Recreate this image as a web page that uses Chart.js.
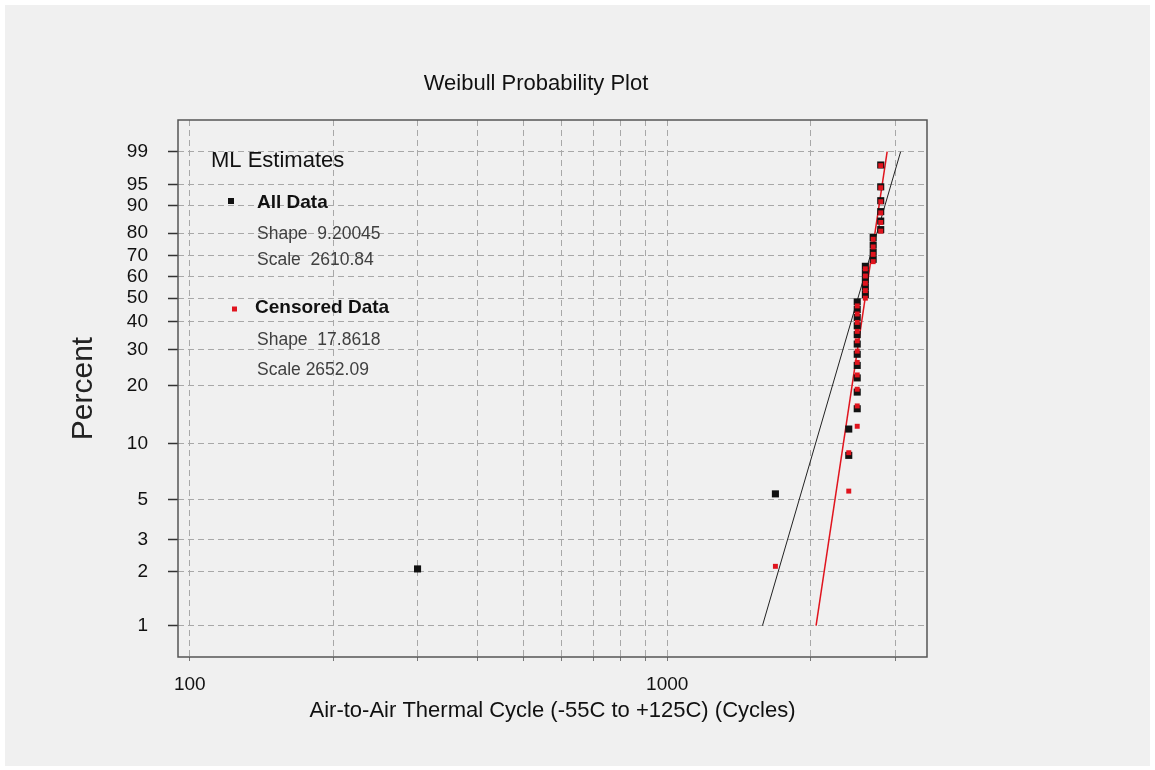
<!DOCTYPE html>
<html>
<head>
<meta charset="utf-8">
<title>Weibull Probability Plot</title>
<script src="https://cdn.jsdelivr.net/npm/chart.js@4.4.1/dist/chart.umd.min.js"></script>
<style>
  html, body { margin: 0; padding: 0; background: #fff; }
  #wrap { width: 1155px; height: 770px; }
</style>
</head>
<body>
<div id="wrap"><canvas id="chartWeibull" width="1155" height="770"></canvas></div>
<script>
// All data: cycles to failure and plotting position (%)
const allCycles = [300, 1685, 2400, 2400,
  2500, 2500, 2500, 2500, 2500, 2500, 2500, 2500, 2500, 2500, 2500,
  2600, 2600, 2600, 2600, 2600,
  2700, 2700, 2700, 2700,
  2800, 2800, 2800, 2800, 2800, 2800];
const allPercent = [2.07, 5.37, 8.68, 11.98, 15.29, 18.60, 21.90, 25.21, 28.51, 31.82,
  35.12, 38.43, 41.74, 45.04, 48.35, 51.65, 54.96, 58.26, 61.57, 64.88,
  68.18, 71.49, 74.79, 78.10, 81.40, 84.71, 88.02, 91.32, 94.63, 97.93];

// Censored data
const censCycles = [1685, 2400, 2400,
  2500, 2500, 2500, 2500, 2500, 2500, 2500, 2500, 2500, 2500, 2500,
  2600, 2600, 2600, 2600, 2600,
  2700, 2700, 2700, 2700,
  2800, 2800, 2800, 2800, 2800, 2800];
const censPercent = [2.14, 5.56, 8.97, 12.39, 15.81, 19.23, 22.65, 26.07, 29.49, 32.91,
  36.32, 39.74, 43.16, 46.58, 50.00, 53.42, 56.84, 60.26, 63.68, 67.09,
  70.51, 73.93, 77.35, 80.77, 84.19, 87.61, 91.03, 94.44, 97.86];

// ML fit lines (end points)
const allFitCycles = [1583, 3082];
const allFitPercent = [1, 99];
const censFitCycles = [2050, 2888];
const censFitPercent = [1, 99];

// estimates shown in the box
const fitNames = ['All Data', 'Censored Data'];
const fitShape = ['9.20045', '17.8618'];
const fitScale = ['2610.84', '2652.09'];

// axes
const percentTicks = [1, 2, 3, 5, 10, 20, 30, 40, 50, 60, 70, 80, 90, 95, 99];
const cycleGrid = [100, 200, 300, 400, 500, 600, 700, 800, 900, 1000, 2000, 3000];
const cycleLabels = [100, 1000];

const FONT = '"Liberation Sans", Arial, sans-serif';
Chart.defaults.font.family = FONT;

// weibull paper: y = ln(-ln(1-p))
const wb = p => Math.log(-Math.log(1 - p / 100));
const pts = (xs, ps) => xs.map((x, i) => ({ x: x, y: wb(ps[i]) }));

const BLACK = '#111111';
const RED = '#e0141e';

const decor = {
  id: 'decor',
  beforeDraw(chart) {
    const c = chart.ctx;
    c.save();
    c.fillStyle = '#ffffff';
    c.fillRect(0, 0, chart.width, chart.height);
    c.fillStyle = '#f0f0f0';
    c.fillRect(5, 5, chart.width - 10, chart.height - 9);
    c.restore();
  },
  afterDraw(chart) {
    const c = chart.ctx, a = chart.chartArea;
    c.save();
    c.strokeStyle = '#555';
    c.lineWidth = 1.5;
    c.strokeRect(a.left, a.top, a.right - a.left, a.bottom - a.top);

    c.textAlign = 'left';
    c.textBaseline = 'alphabetic';
    c.fillStyle = BLACK;
    c.font = '22px ' + FONT;
    c.textAlign = 'center';
    c.fillText('Weibull Probability Plot', 536, 90);

    c.textAlign = 'left';
    c.fillText('ML Estimates', 211, 167);

    // all data
    c.fillStyle = BLACK;
    c.fillRect(228, 198, 6, 6);
    c.font = 'bold 19px ' + FONT;
    c.fillText(fitNames[0], 257, 208);
    c.fillStyle = '#404040';
    c.font = '17.5px ' + FONT;
    c.fillText('Shape  ' + fitShape[0], 257, 239);
    c.fillText('Scale  ' + fitScale[0], 257, 265);

    // censored data
    c.fillStyle = RED;
    c.fillRect(232, 306.5, 5, 5);
    c.fillStyle = BLACK;
    c.font = 'bold 19px ' + FONT;
    c.fillText(fitNames[1], 255, 313);
    c.fillStyle = '#404040';
    c.font = '17.5px ' + FONT;
    c.fillText('Shape  ' + fitShape[1], 257, 345);
    c.fillText('Scale ' + fitScale[1], 257, 375);
    c.restore();
  }
};

new Chart(document.getElementById('chartWeibull'), {
  type: 'scatter',
  data: {
    datasets: [
      { label: 'Censored Data', data: pts(censCycles, censPercent), pointStyle: 'rect',
        pointRadius: 3.5, backgroundColor: RED, borderWidth: 0, order: 0 },
      { label: 'All Data', data: pts(allCycles, allPercent), pointStyle: 'rect',
        pointRadius: 5, backgroundColor: BLACK, borderWidth: 0, order: 1 },
      { label: 'Censored fit', data: pts(censFitCycles, censFitPercent), showLine: true,
        borderColor: RED, borderWidth: 1.5, pointRadius: 0, order: 2 },
      { label: 'All fit', data: pts(allFitCycles, allFitPercent), showLine: true,
        borderColor: '#222', borderWidth: 1, pointRadius: 0, order: 3 }
    ]
  },
  options: {
    responsive: false,
    animation: false,
    events: [],
    layout: { padding: { left: 0, right: 228, top: 120, bottom: 0 } },
    plugins: {
      legend: { display: false },
      title: { display: false },
      tooltip: { enabled: false }
    },
    scales: {
      x: {
        type: 'logarithmic',
        min: 94.5,
        max: 3500,
        afterBuildTicks: s => { s.ticks = cycleGrid.map(v => ({ value: v })); },
        afterFit: s => { s.height = 113; },
        ticks: {
          autoSkip: false, maxRotation: 0, padding: 12.5, color: BLACK,
          font: { size: 19 },
          callback: v => cycleLabels.includes(v) ? String(v) : ''
        },
        grid: { color: '#a8a8a8', lineWidth: 1, tickColor: '#777', tickLength: 4 },
        border: { display: false, dash: [6, 4] },
        title: {
          display: true, text: 'Air-to-Air Thermal Cycle (-55C to +125C) (Cycles)',
          color: BLACK, font: { size: 22 }, padding: { top: 0, bottom: 46 }
        }
      },
      y: {
        type: 'linear',
        min: -5.006,
        max: 1.937,
        afterBuildTicks: s => { s.ticks = percentTicks.map(p => ({ value: wb(p) })); },
        afterFit: s => { s.width = 178; },
        ticks: {
          autoSkip: false, padding: 20, color: BLACK,
          font: { size: 19 },
          callback: (v, i) => String(percentTicks[i])
        },
        grid: { color: '#a8a8a8', lineWidth: 1, tickColor: '#333', tickLength: 10, tickWidth: 1.5 },
        border: { display: false, dash: [6, 4] },
        title: {
          display: true, text: 'Percent', color: '#222',
          font: { size: 30 }, padding: { top: 66, bottom: 0 }
        }
      }
    }
  },
  plugins: [decor]
});
</script>
</body>
</html>
